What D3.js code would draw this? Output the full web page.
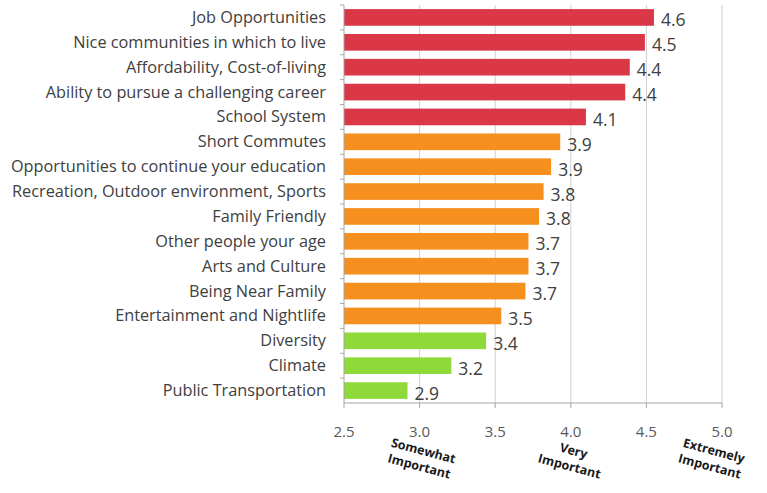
<!DOCTYPE html>
<html><head><meta charset="utf-8">
<script src="https://cdn.jsdelivr.net/npm/d3@7"></script>
<style>body{margin:0;background:#fff;} svg{display:block;}</style>
</head><body>
<script>
const categories = ["Job Opportunities","Nice communities in which to live","Affordability, Cost-of-living","Ability to pursue a challenging career","School System","Short Commutes","Opportunities to continue your education","Recreation, Outdoor environment, Sports","Family Friendly","Other people your age","Arts and Culture","Being Near Family","Entertainment and Nightlife","Diversity","Climate","Public Transportation"];
const values = [4.55,4.49,4.39,4.36,4.10,3.93,3.87,3.82,3.79,3.72,3.72,3.70,3.54,3.44,3.21,2.92];
const labels = ["4.6","4.5","4.4","4.4","4.1","3.9","3.9","3.8","3.8","3.7","3.7","3.7","3.5","3.4","3.2","2.9"];
const groups = ["high","high","high","high","high","mid","mid","mid","mid","mid","mid","mid","mid","low","low","low"];
const tickValues = [2.5,3.0,3.5,4.0,4.5,5.0];
const annotations = [{v:3.0,lines:["Somewhat","Important"]},{v:4.0,lines:["Very","Important"]},{v:5.0,lines:["Extremely","Important"]}];
const colors = {high:"#da3747", mid:"#f5901f", low:"#8fd93b"};

const W=767,H=493;
const m={left:344,top:5};
const font="'Open Sans', Lato, sans-serif";
const svg=d3.select("body").append("svg").attr("width",W).attr("height",H);
const x=d3.scaleLinear().domain([2.5,5.0]).range([m.left,722]);
const y=d3.scaleBand().domain(categories).range([m.top,403]).paddingInner(0.33).paddingOuter(0.165);
const yb=d3.scaleBand().domain(categories).range([m.top,403]);

// gridlines
svg.append("g").selectAll("line").data(tickValues.slice(1)).join("line")
 .attr("x1",d=>x(d)).attr("x2",d=>x(d)).attr("y1",m.top).attr("y2",403)
 .attr("stroke","#d0d0d0").attr("stroke-width",1);

// bars
svg.append("g").selectAll("rect").data(categories).join("rect")
 .attr("x",x(2.5)).attr("y",d=>y(d)).attr("height",y.bandwidth())
 .attr("width",(d,i)=>x(values[i])-x(2.5))
 .attr("fill",(d,i)=>colors[groups[i]]);

// value labels
svg.append("g").selectAll("text").data(categories).join("text")
 .attr("x",(d,i)=>x(values[i])+7).attr("y",d=>y(d)+y.bandwidth()/2+9)
 .attr("font-family",font).attr("font-size",17.5).attr("fill","#404040")
 .text((d,i)=>labels[i]);

// y axis
const ya=svg.append("g").attr("transform",`translate(${x(2.5)},0)`);
ya.append("line").attr("x1",0).attr("x2",0).attr("y1",m.top).attr("y2",403).attr("stroke","#a6a6a6");
ya.selectAll("line.t").data(categories).join("line").attr("class","t")
 .attr("x1",-4).attr("x2",0).attr("y1",d=>yb(d)).attr("y2",d=>yb(d)).attr("stroke","#a6a6a6");
ya.selectAll("text").data(categories).join("text")
 .attr("x",-18).attr("y",d=>yb(d)+yb.bandwidth()/2+5.5)
 .attr("text-anchor","end").attr("font-family",font).attr("font-size",16.3).attr("fill","#404040")
 .text(d=>d);

// x axis
const xa=svg.append("g").attr("transform","translate(0,403)");
xa.append("line").attr("x1",x(2.5)).attr("x2",x(5)).attr("stroke","#a6a6a6");
xa.selectAll("line.t").data(tickValues).join("line").attr("class","t")
 .attr("x1",d=>x(d)).attr("x2",d=>x(d)).attr("y1",0).attr("y2",5).attr("stroke","#a6a6a6");
xa.selectAll("text").data(tickValues).join("text")
 .attr("x",d=>x(d)).attr("y",34).attr("text-anchor","middle")
 .attr("font-family",font).attr("font-size",15).attr("fill","#595959")
 .text(d=>d.toFixed(1));

// annotations
const dxs=[3,2,-9];
const an=svg.append("g").selectAll("g").data(annotations).join("g")
 .attr("transform",(d,i)=>`translate(${x(d.v)+dxs[i]},454) rotate(15)`);
an.selectAll("text").data(d=>d.lines.map((l,i)=>({l,i}))).join("text")
 .attr("x",0).attr("y",d=>d.i*16+1).attr("text-anchor","middle")
 .attr("font-family",font).attr("font-weight","bold").attr("font-size",12.5).attr("fill","#1a1a1a")
 .text(d=>d.l);
</script>
</body></html>
